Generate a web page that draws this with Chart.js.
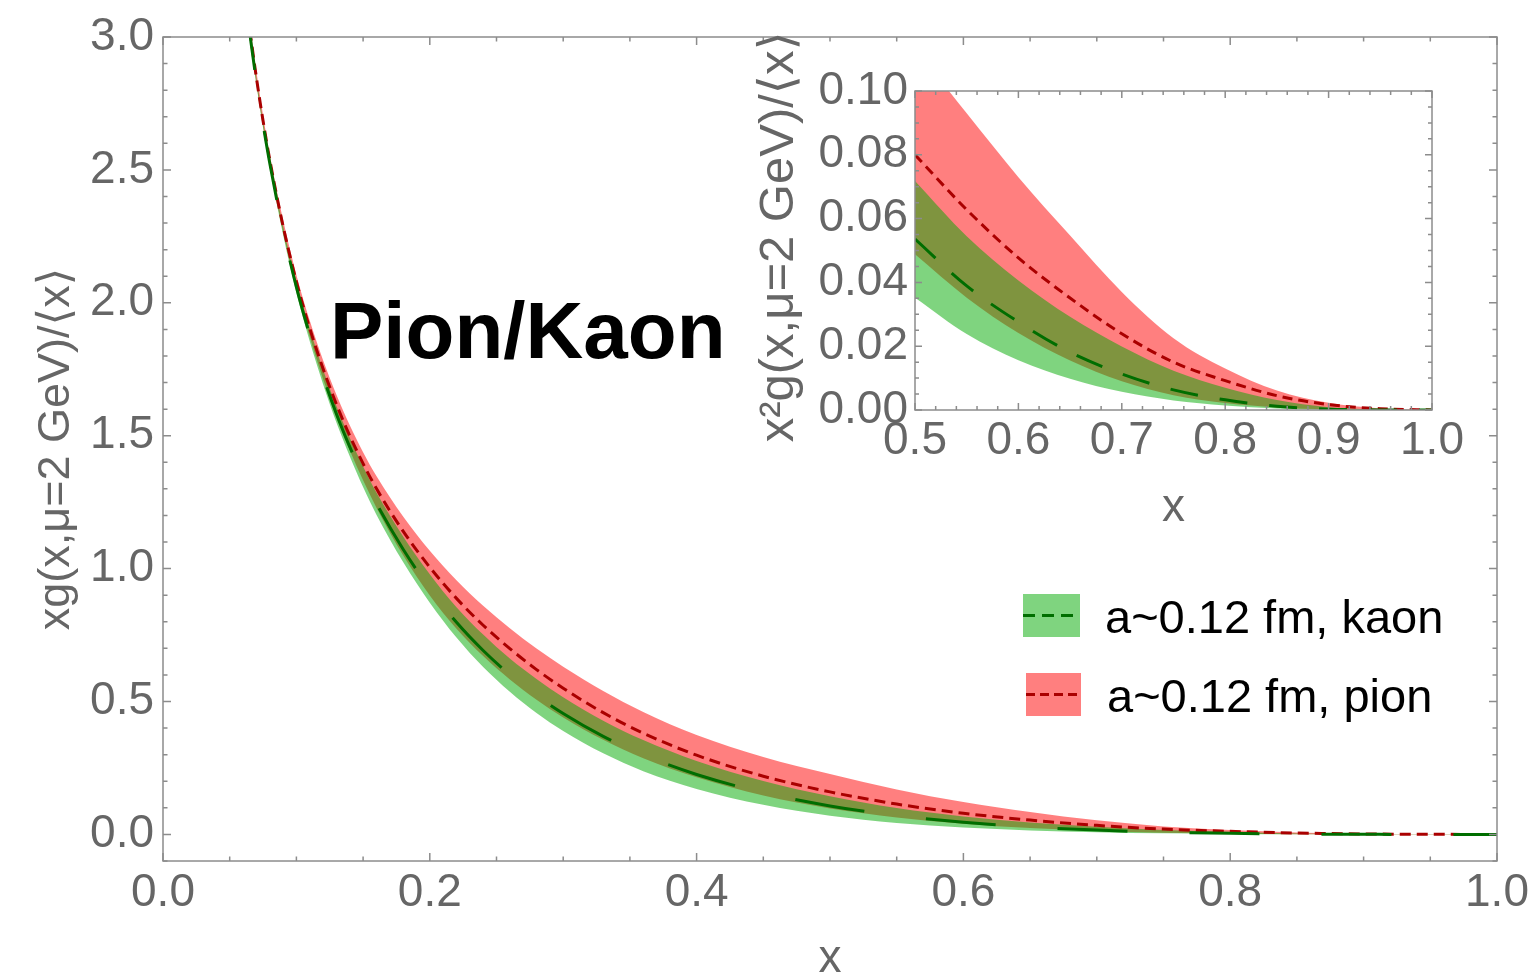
<!DOCTYPE html>
<html><head><meta charset="utf-8">
<script src="https://cdn.jsdelivr.net/npm/chart.js@4.4.1/dist/chart.umd.min.js"></script>
<style>
html,body{margin:0;padding:0;background:#fff;}
#wrap{position:relative;width:1536px;height:980px;overflow:hidden;background:#fff;}
#main{position:absolute;left:0;top:0;}
#inset{position:absolute;left:730px;top:0;}
</style></head><body>
<div id="wrap"><canvas id="main" width="1536" height="980"></canvas><canvas id="inset" width="760" height="540"></canvas></div>
<script>
// ---------- data ----------
const kaonLabel = 'a~0.12 fm, kaon';
const pionLabel = 'a~0.12 fm, pion';

// main panel: x g(x) / <x>
const xMain = [0.062, 0.066, 0.07, 0.075, 0.08, 0.09, 0.10, 0.11, 0.12, 0.13, 0.14, 0.15, 0.16, 0.18, 0.20, 0.22, 0.24, 0.26, 0.28, 0.30, 0.33, 0.36, 0.40, 0.45, 0.50, 0.55, 0.60, 0.65, 0.70, 0.75, 0.80, 0.85, 0.90, 0.95, 1.00];
const pionMain   = [3.154, 2.993, 2.848, 2.685, 2.539, 2.289, 2.080, 1.904, 1.752, 1.618, 1.500, 1.395, 1.301, 1.141, 1.005, 0.888, 0.787, 0.699, 0.620, 0.550, 0.458, 0.381, 0.298, 0.219, 0.160, 0.1142, 0.0795, 0.0540, 0.0341, 0.0200, 0.0115, 0.0053, 0.0019, 0.0004, 0];
const pionMainUp = [3.179, 3.017, 2.871, 2.706, 2.559, 2.312, 2.105, 1.933, 1.784, 1.654, 1.539, 1.438, 1.348, 1.196, 1.067, 0.956, 0.860, 0.776, 0.699, 0.631, 0.540, 0.461, 0.374, 0.291, 0.227, 0.169, 0.1216, 0.0842, 0.0529, 0.0300, 0.0163, 0.0072, 0.0025, 0.0005, 0];
const pionMainLo = [3.129, 2.969, 2.825, 2.664, 2.519, 2.266, 2.053, 1.872, 1.713, 1.571, 1.445, 1.332, 1.229, 1.050, 0.899, 0.774, 0.671, 0.583, 0.507, 0.440, 0.356, 0.287, 0.215, 0.146, 0.0976, 0.0640, 0.0401, 0.0238, 0.0128, 0.0062, 0.0028, 0.00095, 0.0002, 0, 0];
const kaonMain   = [3.138, 2.978, 2.834, 2.672, 2.526, 2.273, 2.059, 1.879, 1.722, 1.582, 1.458, 1.346, 1.245, 1.073, 0.925, 0.798, 0.692, 0.601, 0.523, 0.455, 0.369, 0.299, 0.2256, 0.1572, 0.1072, 0.0708, 0.0460, 0.0278, 0.0162, 0.0084, 0.0040, 0.0014, 0.0003, 0.00003, 0];
const kaonMainUp = [3.154, 2.993, 2.848, 2.685, 2.539, 2.289, 2.078, 1.902, 1.748, 1.612, 1.492, 1.384, 1.286, 1.121, 0.979, 0.855, 0.752, 0.662, 0.585, 0.516, 0.428, 0.355, 0.276, 0.201, 0.1436, 0.0991, 0.0676, 0.0449, 0.0284, 0.0164, 0.0088, 0.0036, 0.0010, 0.0002, 0];
const kaonMainLo = [3.122, 2.963, 2.820, 2.659, 2.513, 2.257, 2.038, 1.855, 1.694, 1.550, 1.423, 1.307, 1.203, 1.025, 0.872, 0.741, 0.630, 0.537, 0.457, 0.389, 0.305, 0.238, 0.171, 0.1113, 0.0703, 0.0432, 0.0260, 0.0151, 0.0082, 0.0040, 0.0018, 0.00056, 0.0001, 0, 0];
const xMainTicks = [0.0, 0.2, 0.4, 0.6, 0.8, 1.0];
const yMainTicks = [0.0, 0.5, 1.0, 1.5, 2.0, 2.5, 3.0];

// inset panel: x^2 g(x) / <x>
const xInset = [0.50, 0.55, 0.60, 0.65, 0.70, 0.75, 0.80, 0.85, 0.90, 0.95, 1.00];
const pionInset   = [0.0800, 0.0628, 0.0477, 0.0351, 0.0239, 0.0150, 0.0092, 0.0045, 0.0017, 0.0004, 0];
const pionInsetUp = [0.1135, 0.0930, 0.0730, 0.0547, 0.0370, 0.0225, 0.0130, 0.0061, 0.00225, 0.0005, 0];
const pionInsetLo = [0.0488, 0.0352, 0.0241, 0.0155, 0.0090, 0.00465, 0.0022, 0.0008, 0.0002, 0, 0];
const kaonInset   = [0.0536, 0.0389, 0.0276, 0.0181, 0.0113, 0.0063, 0.0032, 0.0012, 0.00027, 0.00003, 0];
const kaonInsetUp = [0.0718, 0.0545, 0.0406, 0.0292, 0.0199, 0.0123, 0.0070, 0.0031, 0.0009, 0.0002, 0];
const kaonInsetLo = [0.0352, 0.0238, 0.0156, 0.0098, 0.0057, 0.0030, 0.00144, 0.00048, 0.00009, 0, 0];
const xInsetTicks = [0.5, 0.6, 0.7, 0.8, 0.9, 1.0];
const yInsetTicks = [0.00, 0.02, 0.04, 0.06, 0.08, 0.10];

// ---------- styles ----------
const FONT = "'Liberation Sans', Arial, 'DejaVu Sans', sans-serif";
const TICK_COLOR = '#666666';
const FRAME_COLOR = '#8c8c8c';
const GREEN_FILL = 'rgba(0,170,0,0.5)';
const RED_FILL = 'rgba(255,0,0,0.5)';
const GREEN_LINE = '#006e00';
const RED_LINE = '#aa0000';

Chart.defaults.font.family = FONT;

function pts(xs, ys){ return xs.map((x,i)=>({x:x, y:ys[i]})); }

function bandSets(xs, kc, ku, kl, pc, pu, pl, kDash, pDash){
  const common = {pointRadius:0, pointHoverRadius:0, cubicInterpolationMode:'monotone'};
  return [
    Object.assign({label:kaonLabel, data:pts(xs,kc), borderColor:GREEN_LINE, borderWidth:3, borderDash:kDash, fill:false}, common),
    Object.assign({label:pionLabel, data:pts(xs,pc), borderColor:RED_LINE, borderWidth:3, borderDash:pDash, fill:false}, common),
    Object.assign({label:'kaon band', data:pts(xs,ku), borderWidth:0, borderColor:'rgba(0,0,0,0)', backgroundColor:GREEN_FILL, fill:'+1'}, common),
    Object.assign({label:'kaon band lo', data:pts(xs,kl), borderWidth:0, borderColor:'rgba(0,0,0,0)', fill:false}, common),
    Object.assign({label:'pion band', data:pts(xs,pu), borderWidth:0, borderColor:'rgba(0,0,0,0)', backgroundColor:RED_FILL, fill:'+1'}, common),
    Object.assign({label:'pion band lo', data:pts(xs,pl), borderWidth:0, borderColor:'rgba(0,0,0,0)', fill:false}, common)
  ];
}

function framePlugin(cfg){
  return {
    id:'frame_'+cfg.id,
    afterDatasetsDraw(chart){
      const ctx = chart.ctx, a = chart.chartArea, x = chart.scales.x, y = chart.scales.y;
      ctx.save();
      ctx.strokeStyle = FRAME_COLOR; ctx.lineWidth = 1.5;
      ctx.strokeRect(a.left, a.top, a.right-a.left, a.bottom-a.top);
      ctx.beginPath();
      const eps = 1e-9;
      const isMajor = (v, m) => { const r = v/m; return Math.abs(r-Math.round(r)) < 1e-6; };
      for (let k = Math.ceil(x.min/cfg.xMinor - eps); k*cfg.xMinor <= x.max + eps; k++){
        const v = k*cfg.xMinor, px = x.getPixelForValue(v);
        const L = isMajor(v, cfg.xMajor) ? cfg.major : cfg.minor;
        ctx.moveTo(px, a.bottom); ctx.lineTo(px, a.bottom - L);
        ctx.moveTo(px, a.top); ctx.lineTo(px, a.top + L);
      }
      for (let k = Math.ceil(y.min/cfg.yMinor - eps); k*cfg.yMinor <= y.max + eps; k++){
        const v = k*cfg.yMinor, py = y.getPixelForValue(v);
        const L = isMajor(v, cfg.yMajor) ? cfg.major : cfg.minor;
        ctx.moveTo(a.left, py); ctx.lineTo(a.left + L, py);
        ctx.moveTo(a.right, py); ctx.lineTo(a.right - L, py);
      }
      ctx.stroke();
      ctx.restore();
      if (cfg.extra) cfg.extra(chart);
    }
  };
}

function drawMainExtras(chart){
  const ctx = chart.ctx;
  ctx.save();
  ctx.fillStyle = '#000';
  ctx.font = "bold 80px " + FONT;
  ctx.textBaseline = 'alphabetic';
  ctx.textAlign = 'left';
  ctx.fillText('Pion/Kaon', 330, 358);
  const items = [
    {ds:chart.data.datasets[0], band:chart.data.datasets[2], box:[1023,594,57,43], tx:1105, base:633, dash:[12,7]},
    {ds:chart.data.datasets[1], band:chart.data.datasets[4], box:[1026,673,55,43], tx:1107, base:712, dash:[9,5]}
  ];
  items.forEach(it=>{
    const [bx,by,bw,bh] = it.box;
    ctx.fillStyle = it.band.backgroundColor;
    ctx.fillRect(bx,by,bw,bh);
    ctx.strokeStyle = it.ds.borderColor;
    ctx.lineWidth = 3;
    ctx.setLineDash(it.dash);
    ctx.beginPath(); ctx.moveTo(bx, by+bh/2); ctx.lineTo(bx+bw, by+bh/2); ctx.stroke();
    ctx.setLineDash([]);
    ctx.fillStyle = '#000';
    ctx.font = "47px " + FONT;
    ctx.fillText(it.ds.label, it.tx, it.base);
  });
  ctx.restore();
}

function axisOpts(o){
  return {
    type:'linear', min:o.min, max:o.max,
    afterFit:o.fit,
    afterBuildTicks:(s)=>{ s.ticks = o.ticks.map(v=>({value:v})); },
    grid:{display:false, drawTicks:false},
    border:{display:false},
    ticks:{font:{size:46}, color:TICK_COLOR, padding:o.pad, autoSkip:false, maxRotation:0,
           callback:(v)=>Number(v).toFixed(o.dec)},
    title:{display:true, text:o.title, color:TICK_COLOR, font:{size:o.tsize, lineHeight:o.tlh}, padding:o.tpad}
  };
}

// ---------- main chart ----------
new Chart(document.getElementById('main'), {
  type:'line',
  data:{datasets:bandSets(xMain, kaonMain, kaonMainUp, kaonMainLo, pionMain, pionMainUp, pionMainLo, [70,62], [11,6])},
  options:{
    responsive:false, animation:false, devicePixelRatio:1,
    layout:{padding:{top:37, right:39, left:0, bottom:0}},
    plugins:{legend:{display:false}, tooltip:{enabled:false}},
    scales:{
      x:axisOpts({min:0, max:1, ticks:xMainTicks, dec:1, pad:5, fit:(s)=>{s.height=119;},
                  title:'x', tsize:46, tlh:1, tpad:{top:0,bottom:-2}}),
      y:axisOpts({min:-0.1, max:3, ticks:yMainTicks, dec:1, pad:9, fit:(s)=>{s.width=163;},
                  title:'xg(x,\u03bc=2 GeV)/\u27e8x\u27e9', tsize:45, tlh:1.2, tpad:{top:30,bottom:0}})
    }
  },
  plugins:[framePlugin({id:'main', xMinor:0.05, xMajor:0.2, yMinor:0.1, yMajor:0.5, major:8, minor:4.5, extra:drawMainExtras})]
});

// ---------- inset chart ----------
new Chart(document.getElementById('inset'), {
  type:'line',
  data:{datasets:bandSets(xInset, kaonInset, kaonInsetUp, kaonInsetLo, pionInset, pionInsetUp, pionInsetLo, [28,22], [10,6])},
  options:{
    responsive:false, animation:false, devicePixelRatio:1,
    layout:{padding:{top:91, right:58, left:0, bottom:0}},
    plugins:{legend:{display:false}, tooltip:{enabled:false}},
    scales:{
      x:axisOpts({min:0.5, max:1, ticks:xInsetTicks, dec:1, pad:4, fit:(s)=>{s.height=130;},
                  title:'x', tsize:46, tlh:1, tpad:{top:0,bottom:9}}),
      y:axisOpts({min:0, max:0.1, ticks:yInsetTicks, dec:2, pad:7, fit:(s)=>{s.width=185;},
                  title:'  x\u00b2g(x,\u03bc=2 GeV)/\u27e8x\u27e9', tsize:49, tlh:1.2, tpad:{top:20,bottom:0}})
    }
  },
  plugins:[framePlugin({id:'inset', xMinor:0.02, xMajor:0.1, yMinor:0.005, yMajor:0.02, major:7, minor:4})]
});
</script>
</body></html>
